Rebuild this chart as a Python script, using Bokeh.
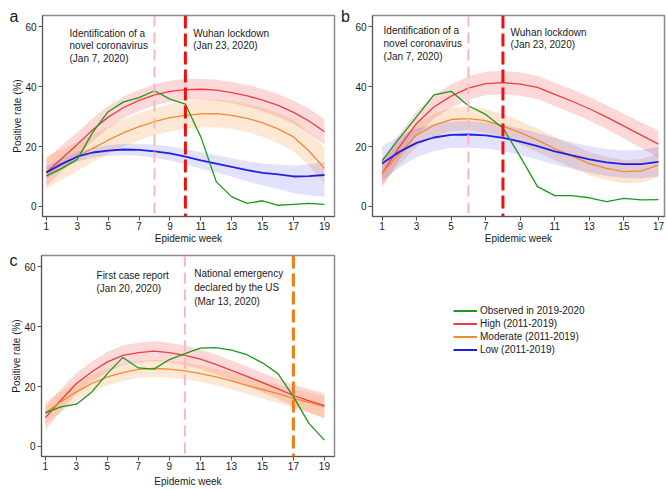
from bokeh.plotting import figure
from bokeh.models import Range1d, Label, Span, FixedTicker, Legend, LegendItem
from bokeh.layouts import column, row
from bokeh.embed import file_html
from bokeh.resources import INLINE

# ---------------- data ----------------
weeks_a = list(range(1, 20))
a_obs = [10.2, 12.7, 15.7, 24.7, 31.6, 34.9, 36.3, 38.6, 35.8, 34.1, 23.2, 8.2, 3.2, 1.0, 1.9, 0.4, 0.7, 1.0, 0.7]
a_high = [11.3, 16.0, 20.7, 25.6, 29.8, 33.0, 35.4, 37.2, 38.4, 39.0, 39.1, 38.8, 38.0, 36.9, 35.5, 33.7, 31.4, 28.5, 24.9]
a_high_up = [4.5, 4.3, 4.0, 3.8, 3.7, 3.6, 3.5, 3.5, 3.5, 3.5, 3.5, 3.5, 3.5, 3.6, 3.7, 3.8, 3.9, 4.1, 4.3]
a_high_dn = a_high_up
a_mod = [11.3, 14.0, 16.6, 19.4, 22.1, 24.6, 26.6, 28.3, 29.6, 30.4, 30.9, 31.0, 30.4, 29.4, 27.9, 25.9, 23.2, 18.5, 12.7]
a_mod_up = [5.5, 5.0, 4.8, 4.6, 4.5, 4.5, 4.5, 4.5, 4.6, 4.6, 4.6, 4.6, 4.7, 4.8, 5.0, 5.3, 5.7, 6.3, 7.0]
a_mod_dn = [5.5, 5.0, 4.8, 4.6, 4.5, 4.5, 4.5, 4.5, 4.6, 4.6, 4.6, 4.6, 4.6, 4.6, 4.7, 4.8, 4.9, 5.0, 5.0]
a_low = [11.3, 14.2, 16.6, 18.0, 18.6, 19.0, 18.9, 18.4, 17.7, 16.6, 15.4, 14.3, 13.2, 12.1, 11.2, 10.7, 10.0, 10.1, 10.5]
a_low_up = [2.0, 1.8, 1.7, 1.7, 1.8, 1.9, 2.0, 2.2, 2.4, 2.6, 2.7, 2.8, 2.9, 3.0, 3.1, 3.3, 3.6, 4.0, 4.4]
a_low_dn = [2.0, 1.8, 1.7, 1.7, 1.8, 1.9, 2.0, 2.2, 2.4, 2.6, 2.8, 3.0, 3.3, 3.7, 4.2, 4.8, 5.6, 6.4, 7.3]

weeks_b = list(range(1, 18))
b_obs = [15.2, 22.7, 29.9, 37.2, 38.4, 33.6, 30.7, 26.2, 16.6, 6.6, 3.6, 3.6, 2.9, 1.6, 2.7, 2.2, 2.3]
b_high = [11.0, 19.8, 27.7, 33.2, 36.8, 39.5, 41.0, 41.3, 40.8, 39.7, 37.4, 35.1, 32.6, 29.8, 26.8, 23.8, 20.8]
b_high_up = [4.5, 4.2, 4.0, 3.9, 3.9, 3.9, 3.9, 3.9, 3.9, 3.9, 3.9, 3.9, 3.9, 4.0, 4.1, 4.3, 4.5]
b_high_dn = b_high_up
b_mod = [11.0, 17.7, 23.8, 27.1, 29.0, 29.3, 28.6, 26.8, 24.6, 22.1, 19.3, 16.8, 14.3, 12.7, 11.6, 11.9, 13.8]
b_mod_up = [4.0, 3.8, 3.8, 3.8, 3.9, 3.9, 3.9, 3.9, 3.9, 3.9, 3.9, 3.9, 3.9, 3.9, 3.9, 3.9, 3.9]
b_mod_dn = b_mod_up
b_low = [14.3, 18.2, 21.2, 23.0, 23.9, 24.0, 23.7, 22.9, 21.6, 20.1, 18.4, 17.0, 15.7, 14.7, 14.1, 14.1, 14.9]
b_low_up = [5.8, 5.2, 4.8, 4.5, 4.4, 4.4, 4.4, 4.4, 4.4, 4.4, 4.4, 4.4, 4.4, 4.5, 4.6, 4.7, 4.9]
b_low_dn = b_low_up

weeks_c = list(range(1, 20))
c_obs = [11.2, 13.2, 14.1, 18.2, 24.3, 29.7, 26.2, 25.8, 29.0, 31.0, 32.8, 33.0, 32.1, 30.6, 27.9, 24.3, 16.6, 7.7, 2.1]
c_high = [9.6, 15.4, 21.0, 24.9, 28.2, 30.4, 31.3, 31.8, 31.3, 30.4, 29.1, 27.4, 25.4, 23.4, 21.3, 19.2, 17.0, 15.2, 13.6]
c_high_up = [4.0, 3.7, 3.5, 3.4, 3.3, 3.3, 3.3, 3.3, 3.3, 3.3, 3.3, 3.3, 3.3, 3.3, 3.3, 3.4, 3.6, 3.9, 4.2]
c_high_dn = c_high_up
c_mod = [11.2, 14.9, 18.2, 21.0, 23.2, 24.6, 25.7, 26.0, 25.8, 25.2, 24.3, 23.2, 21.9, 20.4, 19.0, 17.6, 16.0, 14.7, 13.2]
c_mod_up = [3.8, 3.4, 3.1, 2.9, 2.8, 2.8, 2.8, 2.8, 2.8, 2.8, 2.8, 2.8, 2.8, 2.9, 3.0, 3.1, 3.2, 3.4, 3.6]
c_mod_dn = c_mod_up

xticks_a = [1, 3, 5, 7, 9, 11, 13, 15, 17, 19]
xticks_b = [1, 3, 5, 7, 9, 11, 13, 15, 17]
yticks = [0, 20, 40, 60]

series_names = ["Observed in 2019-2020", "High (2011-2019)", "Moderate (2011-2019)", "Low (2011-2019)"]

# ---------------- style ----------------
FONT = "Liberation Sans"
TXT = "#1a1a1a"
GREEN = "#1a9a1a"
RED = "#f03c3c"
ORANGE = "#f58a2c"
BLUE = "#1f1fe6"
PINK = "#f7b8c2"
VRED = "#ee1111"
VORANGE = "#f07d1a"
YR = (-3.35, 63.7)
XR_A = (0.75, 19.65)
XR_B = (0.45, 17.35)


def band(center, up, dn, sign):
    return [c + sign * (u if sign > 0 else d) for c, u, d in zip(center, up, dn)]


def make_panel(width, height, xr, ticks, ylabel, bl, br, bt, bb, xlab_standoff):
    p = figure(width=width, height=height, x_range=Range1d(*xr), y_range=Range1d(*YR),
               output_backend="svg", toolbar_location=None,
               min_border_left=bl, min_border_right=br, min_border_top=bt, min_border_bottom=bb)
    p.grid.visible = False
    p.outline_line_color = "#8a8a8a"
    p.outline_line_width = 1.5
    p.xaxis.ticker = FixedTicker(ticks=ticks)
    p.yaxis.ticker = FixedTicker(ticks=yticks)
    for ax in [p.xaxis[0], p.yaxis[0]]:
        ax.minor_tick_line_color = None
        ax.major_tick_in = 0
        ax.major_tick_out = 4
        ax.axis_line_color = "#555555"
        ax.major_tick_line_color = "#555555"
        ax.major_label_text_font = FONT
        ax.major_label_text_font_size = "10px"
        ax.major_label_text_color = TXT
        ax.axis_label_text_font = FONT
        ax.axis_label_text_font_size = "10px"
        ax.axis_label_text_font_style = "normal"
        ax.axis_label_text_color = TXT
    p.xaxis.major_label_standoff = 1
    p.xaxis.axis_label_standoff = xlab_standoff
    p.xaxis.axis_label = "Epidemic week"
    p.yaxis.major_label_standoff = 2
    p.yaxis.axis_label_standoff = -1
    if ylabel:
        p.yaxis.axis_label = "Positive rate (%)"
    return p


def add_series(p, weeks, items):
    for center, up, dn, color, lw, alpha in items:
        p.varea(x=weeks, y1=band(center, up, dn, -1), y2=band(center, up, dn, 1),
                fill_color=color, fill_alpha=alpha)
    for center, up, dn, color, lw, alpha in items:
        p.line(weeks, center, line_color=color, line_width=lw)


def add_text(p, x, ys, lines):
    for y, t in zip(ys, lines):
        p.add_layout(Label(x=x, y=y, text=t, text_font=FONT, text_font_size="10px",
                           text_color=TXT, text_baseline="middle", text_align="left"))


def add_letter(p, letter, x, y):
    p.add_layout(Label(x=x, y=y, x_units="screen", y_units="screen", text=letter,
                       text_font=FONT, text_font_size="16px", text_color=TXT,
                       text_baseline="alphabetic", text_align="left"), "left")


# ---------------- layout sizes ----------------
W1, W2 = 337, 330
H1, H2 = 246, 244

# ---------------- panel a ----------------
pa = make_panel(W1, H1, XR_A, xticks_a, True, 38, 3, 15, 30, 0)
pa.add_layout(Span(location=8, dimension="height", line_color=PINK, line_width=2, line_dash="11 6"))
pa.add_layout(Span(location=10, dimension="height", line_color=VRED, line_width=3, line_dash="13 5"))
add_series(pa, weeks_a, [
    (a_high, a_high_up, a_high_dn, RED, 1.3, 0.2),
    (a_mod, a_mod_up, a_mod_dn, ORANGE, 1.3, 0.2),
    (a_low, a_low_up, a_low_dn, BLUE, 1.8, 0.13),
])
pa.line(weeks_a, a_obs, line_color=GREEN, line_width=1.3)
add_text(pa, 2.5, [57.7, 53.7, 49.4], ["Identification of a", "novel coronavirus", "(Jan 7, 2020)"])
add_text(pa, 10.5, [57.7, 53.7], ["Wuhan lockdown", "(Jan 23, 2020)"])
add_letter(pa, "a", 9, 200.5)

# ---------------- panel b ----------------
pb = make_panel(W2, H1, XR_B, xticks_b, False, 35, 3, 15, 30, 0)
pb.add_layout(Span(location=6, dimension="height", line_color=PINK, line_width=2, line_dash="11 6"))
pb.add_layout(Span(location=8, dimension="height", line_color=VRED, line_width=3, line_dash="13 5"))
add_series(pb, weeks_b, [
    (b_high, b_high_up, b_high_dn, RED, 1.3, 0.2),
    (b_mod, b_mod_up, b_mod_dn, ORANGE, 1.3, 0.22),
    (b_low, b_low_up, b_low_dn, BLUE, 1.8, 0.13),
])
pb.line(weeks_b, b_obs, line_color=GREEN, line_width=1.3)
add_text(pb, 1.09, [58.7, 54.4, 50.0], ["Identification of a", "novel coronavirus", "(Jan 7, 2020)"])
add_text(pb, 8.44, [57.9, 53.9], ["Wuhan lockdown", "(Jan 23, 2020)"])
add_letter(pb, "b", -2.5, 200.5)

# ---------------- panel c ----------------
pc = make_panel(W1, H2, XR_A, xticks_a, True, 38, 3, 9, 34, 3)
pc.add_layout(Span(location=10, dimension="height", line_color=PINK, line_width=2, line_dash="11 6"))
pc.add_layout(Span(location=17, dimension="height", line_color=VORANGE, line_width=3, line_dash="13 5"))
add_series(pc, weeks_c, [
    (c_high, c_high_up, c_high_dn, RED, 1.3, 0.2),
    (c_mod, c_mod_up, c_mod_dn, ORANGE, 1.3, 0.2),
])
pc.line(weeks_c, c_obs, line_color=GREEN, line_width=1.3)
add_text(pc, 4.3, [57.0, 52.6], ["First case report", "(Jan 20, 2020)"])
add_text(pc, 10.6, [57.6, 53.1, 48.5], ["National emergency", "declared by the US", "(Mar 13, 2020)"])
add_letter(pc, "c", 9, 196)

# ---------------- legend panel ----------------
pl = figure(width=W2, height=H2, output_backend="svg", toolbar_location=None, min_border=0,
            x_range=Range1d(0, 1), y_range=Range1d(0, 1))
pl.axis.visible = False
pl.grid.visible = False
pl.outline_line_color = None
rends = []
for c in [GREEN, RED, ORANGE, BLUE]:
    # placeholder glyphs outside the visible range, used only for the legend swatches
    rends.append(pl.line(x=[5, 6], y=[5, 6], line_color=c, line_width=2))
leg = Legend(items=[LegendItem(label=n, renderers=[r]) for n, r in zip(series_names, rends)],
             location=(116, 100), orientation="vertical",
             glyph_width=24, glyph_height=13, label_height=13, label_standoff=3,
             spacing=0, padding=0, margin=0, border_line_color=None, background_fill_alpha=0,
             label_text_font=FONT, label_text_font_size="10px", label_text_color=TXT)
pl.add_layout(leg)

layout = column(row(pa, pb), row(pc, pl))
open("out.html", "w").write(file_html(layout, INLINE))
